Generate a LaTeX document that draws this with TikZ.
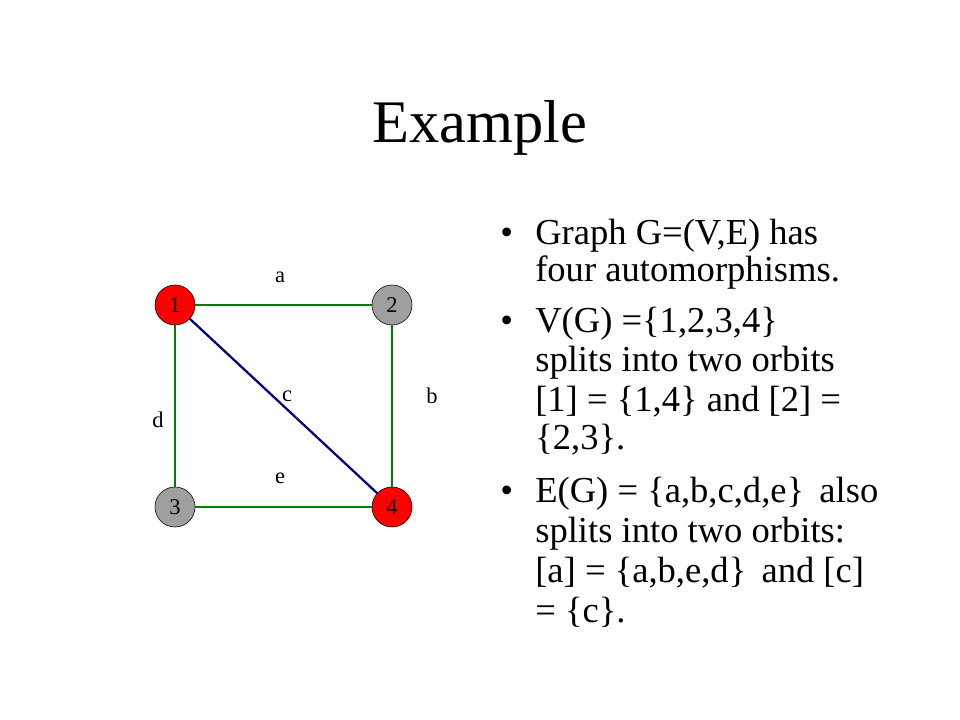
\documentclass[tikz,border=0pt]{standalone}
\usepackage{fontspec}
\setmainfont{Liberation Serif}
\begin{document}
\begin{tikzpicture}
	[
		x=0.025cm, y=-0.025cm,
		vertex/.style={draw, circle, minimum size=1cm, inner sep=0pt, font=\fontsize{16}{18}\selectfont},
		edgelabel/.style={font=\fontsize{16}{18}\selectfont},
		line/.style={anchor=base west, inner sep=0pt, font=\fontsize{26}{30}\selectfont},
		dot/.style={anchor=base west, inner sep=0pt, font=\fontsize{26}{30}\selectfont}
	]

	\useasboundingbox (0,0) rectangle (960,720);

	\node [font=\fontsize{43}{50}\selectfont] (title) at (480,128) {Example};

	% graph
	\node [vertex, fill=red] (v1) at (175,305) {1};
	\node [vertex, fill=red] (v4) at (392,507) {4};
	\node [vertex, fill=gray!75] (v2) at (392,305) {2};
	\node [vertex, fill=gray!75] (v3) at (175,507) {3};

	\path
	[line width=1.6pt, draw=green!50!black]
	(v1) edge (v2)
	(v2) edge (v4)
	(v4) edge (v3)
	(v3) edge (v1);
	\draw [line width=1.6pt, draw=blue!50!black] (v1) -- (v4);

	\node [edgelabel] (la) at (280,277) {a};
	\node [edgelabel] (lb) at (432,396) {b};
	\node [edgelabel] (lc) at (287,396) {c};
	\node [edgelabel] (ld) at (158,420) {d};
	\node [edgelabel] (le) at (280,478) {e};

	% bullets
	\node [dot] (b1) at (500,245) {•};
	\node [dot] (b2) at (500,333) {•};
	\node [dot] (b3) at (500,503) {•};

	\node [line] (t1) at (535,245) {Graph G=(V,E) has};
	\node [line] (t2) at (535,282) {four automorphisms.};
	\node [line] (t3) at (535,333) {V(G) =\{1,2,3,4\}};
	\node [line] (t4) at (535,372) {splits into two orbits};
	\node [line] (t5) at (535,412) {[1] = \{1,4\} and [2] =};
	\node [line] (t6) at (535,450) {\{2,3\}.};
	\node [line] (t7) at (535,503) {E(G) = \{a,b,c,d,e\}\, also};
	\node [line] (t8) at (535,543) {splits into two orbits:};
	\node [line] (t9) at (535,582) {[a] = \{a,b,e,d\}\, and [c]};
	\node [line] (t10) at (535,622) {= \{c\}.};

\end{tikzpicture}
\end{document}
